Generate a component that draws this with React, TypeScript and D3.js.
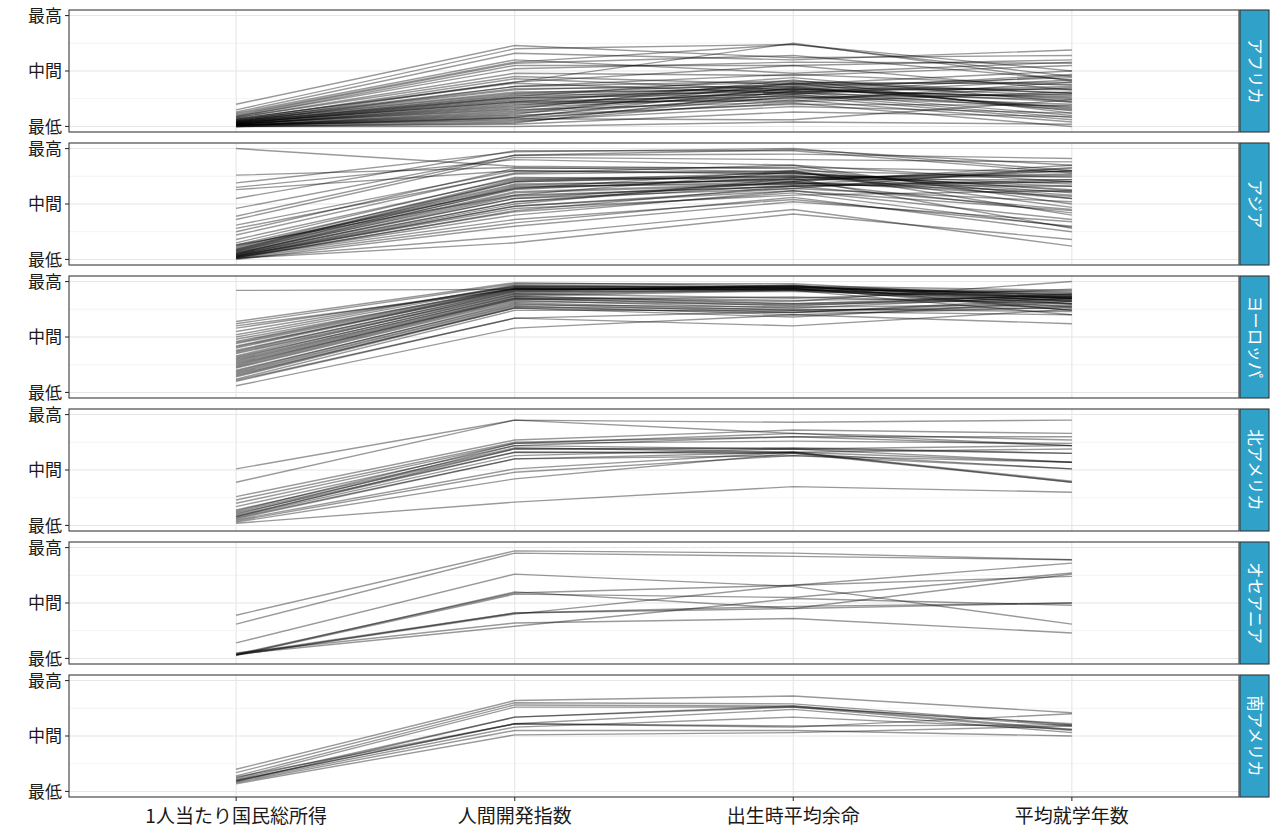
import React from 'react';
import * as d3 from 'd3';

const axisLabels = ['1人当たり国民総所得', '人間開発指数', '出生時平均余命', '平均就学年数'];
const yTickValues = [0, 0.5, 1];
const yTickLabels = ['最低', '中間', '最高'];
const yMinorValues = [0.25, 0.75];
const regions = ['アフリカ', 'アジア', 'ヨーロッパ', '北アメリカ', 'オセアニア', '南アメリカ'];

// each row: [GNI per capita, HDI, life expectancy, mean years of schooling] (min-max scaled)
const africa = [
  [0.20, 0.73, 0.62, 0.64], [0.15, 0.70, 0.74, 0.45], [0.13, 0.66, 0.60, 0.69], [0.12, 0.60, 0.48, 0.58],
  [0.11, 0.58, 0.74, 0.50], [0.10, 0.57, 0.64, 0.42], [0.09, 0.55, 0.55, 0.60], [0.08, 0.48, 0.46, 0.55],
  [0.08, 0.45, 0.38, 0.50], [0.07, 0.40, 0.55, 0.33], [0.07, 0.39, 0.30, 0.46], [0.06, 0.36, 0.41, 0.30],
  [0.06, 0.34, 0.36, 0.44], [0.05, 0.33, 0.40, 0.38], [0.05, 0.31, 0.33, 0.26], [0.05, 0.30, 0.38, 0.40],
  [0.04, 0.29, 0.35, 0.33], [0.04, 0.28, 0.31, 0.36], [0.04, 0.27, 0.44, 0.22], [0.04, 0.26, 0.37, 0.28],
  [0.03, 0.26, 0.29, 0.42], [0.03, 0.25, 0.34, 0.25], [0.03, 0.24, 0.33, 0.34], [0.03, 0.23, 0.27, 0.18],
  [0.03, 0.22, 0.39, 0.30], [0.02, 0.21, 0.30, 0.24], [0.02, 0.20, 0.25, 0.35], [0.02, 0.19, 0.36, 0.16],
  [0.02, 0.18, 0.32, 0.27], [0.02, 0.17, 0.28, 0.20], [0.02, 0.16, 0.42, 0.12], [0.02, 0.15, 0.22, 0.31],
  [0.01, 0.14, 0.34, 0.22], [0.01, 0.13, 0.31, 0.10], [0.01, 0.12, 0.26, 0.29], [0.01, 0.11, 0.39, 0.14],
  [0.01, 0.10, 0.20, 0.19], [0.01, 0.09, 0.29, 0.08], [0.01, 0.08, 0.35, 0.17], [0.01, 0.07, 0.06, 0.24],
  [0.01, 0.06, 0.27, 0.06], [0.01, 0.05, 0.18, 0.12], [0.00, 0.04, 0.24, 0.04], [0.00, 0.03, 0.32, 0.15],
  [0.00, 0.02, 0.13, 0.09], [0.00, 0.00, 0.04, 0.02], [0.00, 0.08, 0.21, 0.00], [0.04, 0.36, 0.47, 0.37],
  [0.05, 0.40, 0.75, 0.41], [0.06, 0.43, 0.33, 0.47], [0.03, 0.22, 0.23, 0.40], [0.09, 0.52, 0.58, 0.57],
];

const asia = [
  [1.00, 0.84, 0.82, 0.55], [0.76, 0.83, 0.79, 0.62], [0.69, 0.97, 1.00, 0.80], [0.65, 0.90, 0.85, 0.70],
  [0.63, 0.80, 0.77, 0.68], [0.55, 0.98, 0.98, 0.78], [0.46, 0.94, 0.99, 0.85], [0.39, 0.94, 0.95, 0.91],
  [0.36, 0.92, 0.90, 0.88], [0.31, 0.80, 0.78, 0.60], [0.28, 0.77, 0.80, 0.74], [0.22, 0.78, 0.85, 0.50],
  [0.18, 0.73, 0.75, 0.66], [0.15, 0.74, 0.72, 0.80], [0.13, 0.70, 0.76, 0.58], [0.12, 0.64, 0.80, 0.40],
  [0.11, 0.72, 0.74, 0.76], [0.10, 0.68, 0.71, 0.82], [0.09, 0.71, 0.78, 0.63], [0.09, 0.67, 0.72, 0.72],
  [0.08, 0.65, 0.70, 0.85], [0.08, 0.70, 0.75, 0.55], [0.07, 0.63, 0.74, 0.77], [0.07, 0.66, 0.68, 0.70],
  [0.06, 0.61, 0.69, 0.61], [0.06, 0.58, 0.79, 0.47], [0.05, 0.64, 0.73, 0.75], [0.05, 0.60, 0.68, 0.80],
  [0.05, 0.55, 0.70, 0.57], [0.04, 0.57, 0.66, 0.72], [0.04, 0.52, 0.70, 0.42], [0.04, 0.55, 0.64, 0.83],
  [0.03, 0.48, 0.62, 0.36], [0.03, 0.52, 0.67, 0.66], [0.03, 0.50, 0.73, 0.28], [0.03, 0.46, 0.58, 0.62],
  [0.02, 0.43, 0.60, 0.29], [0.02, 0.48, 0.64, 0.52], [0.02, 0.36, 0.54, 0.30], [0.02, 0.40, 0.62, 0.44],
  [0.01, 0.33, 0.56, 0.25], [0.01, 0.44, 0.66, 0.70], [0.01, 0.21, 0.45, 0.12], [0.01, 0.15, 0.41, 0.18],
  [0.00, 0.30, 0.52, 0.34], [0.13, 0.58, 0.66, 0.45], [0.25, 0.82, 0.83, 0.79],
];

const europe = [
  [0.92, 0.93, 0.92, 0.80], [0.64, 0.99, 0.96, 0.92], [0.62, 0.98, 0.98, 0.85], [0.60, 0.93, 0.93, 0.77],
  [0.58, 0.95, 0.94, 0.88], [0.55, 0.96, 0.95, 0.86], [0.52, 0.97, 0.95, 0.90], [0.50, 0.96, 0.94, 0.89],
  [0.48, 0.94, 0.93, 0.82], [0.46, 0.95, 0.96, 0.87], [0.45, 0.94, 0.92, 0.91], [0.44, 0.93, 0.93, 0.85],
  [0.42, 0.92, 0.96, 0.84], [0.41, 0.94, 0.95, 0.88], [0.40, 0.93, 0.94, 0.80], [0.38, 0.91, 0.97, 0.74],
  [0.37, 0.92, 0.95, 0.85], [0.36, 0.90, 0.96, 0.82], [0.35, 0.89, 0.94, 0.74], [0.33, 0.91, 0.91, 0.86],
  [0.32, 0.88, 0.93, 0.83], [0.31, 0.89, 0.85, 0.93], [0.30, 0.87, 0.92, 0.70], [0.29, 0.87, 0.80, 0.88],
  [0.28, 0.86, 0.83, 0.86], [0.27, 0.85, 0.78, 0.89], [0.26, 0.84, 0.80, 0.85], [0.25, 0.85, 0.82, 1.00],
  [0.24, 0.84, 0.86, 0.80], [0.23, 0.83, 0.76, 0.87], [0.22, 0.82, 0.79, 0.84], [0.20, 0.80, 0.72, 0.83],
  [0.19, 0.81, 0.74, 0.78], [0.18, 0.79, 0.77, 0.79], [0.17, 0.78, 0.70, 0.77], [0.16, 0.76, 0.72, 0.85],
  [0.15, 0.77, 0.75, 0.73], [0.14, 0.76, 0.68, 0.82], [0.12, 0.74, 0.74, 0.76], [0.11, 0.67, 0.73, 0.70],
  [0.10, 0.67, 0.60, 0.75], [0.06, 0.58, 0.70, 0.62],
];

const northAmerica = [
  [0.51, 0.95, 0.93, 0.95], [0.39, 0.95, 0.83, 0.72], [0.26, 0.77, 0.86, 0.83], [0.23, 0.75, 0.80, 0.80],
  [0.20, 0.74, 0.83, 0.77], [0.17, 0.72, 0.69, 0.57], [0.14, 0.70, 0.66, 0.57], [0.12, 0.69, 0.69, 0.65],
  [0.11, 0.66, 0.65, 0.51], [0.09, 0.66, 0.66, 0.39], [0.08, 0.63, 0.69, 0.72], [0.07, 0.60, 0.66, 0.69],
  [0.06, 0.60, 0.63, 0.57], [0.05, 0.51, 0.66, 0.40], [0.04, 0.48, 0.63, 0.51], [0.03, 0.42, 0.65, 0.39],
  [0.02, 0.21, 0.35, 0.30], [0.10, 0.72, 0.80, 0.72], [0.08, 0.69, 0.70, 0.65], [0.13, 0.74, 0.76, 0.74],
];

const oceania = [
  [0.39, 0.97, 0.95, 0.89], [0.31, 0.95, 0.92, 0.89], [0.14, 0.76, 0.65, 0.31], [0.04, 0.59, 0.66, 0.86],
  [0.03, 0.58, 0.55, 0.77], [0.03, 0.60, 0.45, 0.50], [0.04, 0.41, 0.45, 0.76], [0.03, 0.40, 0.66, 0.74],
  [0.05, 0.32, 0.36, 0.23], [0.04, 0.29, 0.54, 0.48], [0.03, 0.41, 0.47, 0.50],
];

const southAmerica = [
  [0.20, 0.82, 0.86, 0.71], [0.17, 0.80, 0.79, 0.60], [0.14, 0.78, 0.77, 0.56], [0.12, 0.76, 0.76, 0.55],
  [0.11, 0.67, 0.76, 0.61], [0.10, 0.61, 0.59, 0.60], [0.10, 0.61, 0.58, 0.70], [0.09, 0.58, 0.67, 0.56],
  [0.08, 0.55, 0.55, 0.50], [0.07, 0.51, 0.53, 0.59], [0.13, 0.61, 0.74, 0.53], [0.09, 0.67, 0.77, 0.59],
];

const regionData = [africa, asia, europe, northAmerica, oceania, southAmerica];

const FONT = '"Noto Sans CJK JP", "Noto Sans", sans-serif';

export default function App() {
  const W = 1280, H = 832;
  const left = 69, right = 1239;
  const top0 = 10, panelH = 122, step = 133;
  const stripW = 30;

  const x = d3.scalePoint<string>().domain(axisLabels).range([left, right]).padding(0.6);

  return (
    <svg width={W} height={H} style={{ position: 'absolute', left: 0, top: 0, background: '#fff' }} fontFamily={FONT}>
      <rect x={0} y={0} width={W} height={H} fill="#fff" />
      {regions.map((name, i) => {
        const top = top0 + i * step;
        const y = d3.scaleLinear().domain([0, 1]).range([top + panelH - panelH * 0.05 / 1.1, top + panelH * 0.05 / 1.1]);
        const line = d3.line<number>().x((_, j) => x(axisLabels[j]) as number).y(d => y(d));
        const rows = regionData[i];
        return (
          <g key={name}>
            {yMinorValues.map(v => (
              <line key={'mn' + v} x1={left} x2={right} y1={y(v)} y2={y(v)} stroke="#EBEBEB" strokeWidth={0.6} />
            ))}
            {yTickValues.map(v => (
              <line key={'mj' + v} x1={left} x2={right} y1={y(v)} y2={y(v)} stroke="#E6E6E6" strokeWidth={1.1} />
            ))}
            {axisLabels.map(a => (
              <line key={'vx' + a} x1={x(a)} x2={x(a)} y1={top} y2={top + panelH} stroke="#E6E6E6" strokeWidth={1.1} />
            ))}
            {rows.map((r, k) => (
              <path key={k} d={line(r) as string} fill="none" stroke="#000" strokeOpacity={0.4} strokeWidth={1.4} strokeLinejoin="round" />
            ))}
            <rect x={left} y={top} width={right - left} height={panelH} fill="none" stroke="#3a3a3a" strokeWidth={1.1} />
            {yTickValues.map((v, k) => (
              <g key={'yt' + v}>
                <line x1={left - 4} x2={left} y1={y(v)} y2={y(v)} stroke="#333" strokeWidth={1.1} />
                <text x={left - 7} y={y(v)} dy="0.36em" textAnchor="end" fontSize={17} fill="#1a1a1a">{yTickLabels[k]}</text>
              </g>
            ))}
            <rect x={right + 1} y={top} width={stripW - 1} height={panelH} fill="#30A2C9" stroke="#333" strokeWidth={1.1} />
            <text
              transform={`translate(${right + stripW / 2 + 0.5},${top + panelH / 2}) rotate(90)`}
              textAnchor="middle" dy="0.36em" fontSize={16.5} fill="#fff"
            >{name}</text>
          </g>
        );
      })}
      {axisLabels.map(a => {
        const yb = top0 + 5 * step + panelH;
        return (
          <g key={'xa' + a}>
            <line x1={x(a)} x2={x(a)} y1={yb} y2={yb + 4} stroke="#333" strokeWidth={1.1} />
            <text x={x(a)} y={yb + 19} dy="0.36em" textAnchor="middle" fontSize={19} fill="#1a1a1a">{a}</text>
          </g>
        );
      })}
    </svg>
  );
}
